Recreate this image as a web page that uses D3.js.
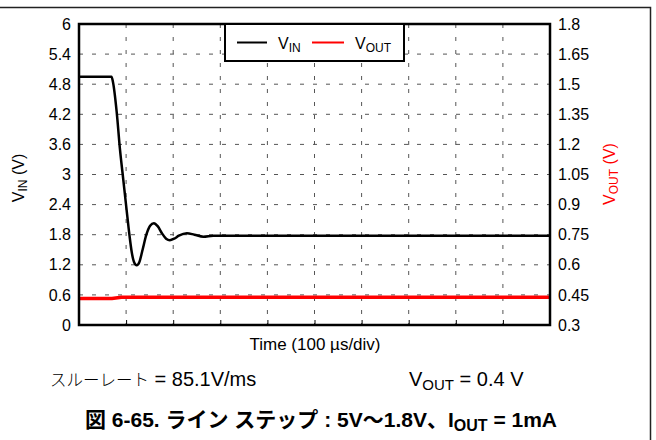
<!DOCTYPE html>
<html>
<head>
<meta charset="utf-8">
<script src="https://cdn.jsdelivr.net/npm/d3@7"></script>
<style>
  body { margin: 0; background: #fff; }
  text { font-family: "Liberation Sans", Arial, "Noto Sans CJK JP", sans-serif; }
</style>
</head>
<body>
<div id="chart"></div>
<script>
// time in divisions (100 us/div)
const vinTime = [0, 0.69, 0.72, 0.80, 0.87, 0.94, 1.01, 1.07, 1.12, 1.17, 1.225, 1.28, 1.35, 1.43, 1.51, 1.59, 1.67, 1.76, 1.85, 1.93, 2.02, 2.12, 2.29, 2.45, 2.64, 2.85, 10];
const vinValues = [4.95, 4.95, 4.85, 4.25, 3.5, 2.9, 2.3, 1.8, 1.45, 1.25, 1.19, 1.25, 1.5, 1.8, 1.98, 2.03, 1.97, 1.83, 1.72, 1.69, 1.72, 1.78, 1.83, 1.80, 1.76, 1.78, 1.78];
const voutTime = [0, 0.7, 0.9, 10];
const voutValues = [0.432, 0.432, 0.438, 0.438];

const leftTicks = [0, 0.6, 1.2, 1.8, 2.4, 3, 3.6, 4.2, 4.8, 5.4, 6];
const rightTicks = [0.3, 0.45, 0.6, 0.75, 0.9, 1.05, 1.2, 1.35, 1.5, 1.65, 1.8];
const timeTicks = [0, 1, 2, 3, 4, 5, 6, 7, 8, 9, 10];

const W = 656, H = 440;
const margin = { top: 24, right: 106, bottom: 115, left: 79 };
const width = W - margin.left - margin.right;
const height = H - margin.top - margin.bottom;

const svg = d3.select("#chart").append("svg")
  .attr("width", W)
  .attr("height", H);

// outer frame (top + right only)
svg.append("path")
  .attr("d", "M0,7.5H650.5V" + H)
  .attr("fill", "none")
  .attr("stroke", "#222")
  .attr("stroke-width", 1.5);

const g = svg.append("g")
  .attr("transform", "translate(" + margin.left + "," + margin.top + ")");

const x = d3.scaleLinear().domain([0, 10]).range([0, width]);
const yL = d3.scaleLinear().domain([0, 6]).range([height, 0]);
const yR = d3.scaleLinear().domain([0.3, 1.8]).range([height, 0]);

// grid
g.selectAll(".hgrid").data(leftTicks.slice(1, -1)).enter().append("line")
  .attr("x1", 0).attr("x2", width)
  .attr("y1", d => yL(d)).attr("y2", d => yL(d))
  .attr("stroke", "#555").attr("stroke-width", 1)
  .attr("stroke-dasharray", "4,9");
g.selectAll(".vgrid").data(timeTicks.slice(1, -1)).enter().append("line")
  .attr("y1", 0).attr("y2", height)
  .attr("x1", d => x(d)).attr("x2", d => x(d))
  .attr("stroke", "#555").attr("stroke-width", 1)
  .attr("stroke-dasharray", "4,9");

// small inner ticks on bottom
g.append("g")
  .attr("transform", "translate(0," + height + ")")
  .call(d3.axisBottom(x).tickValues(timeTicks).tickSize(-5).tickFormat(""))
  .call(a => a.select(".domain").remove());

// left axis labels
g.append("g")
  .call(d3.axisLeft(yL).tickValues(leftTicks).tickSize(0).tickPadding(8).tickFormat(d3.format("~g")))
  .call(a => a.select(".domain").remove())
  .selectAll("text")
  .attr("font-size", 16).attr("fill", "#000");

// right axis labels
g.append("g")
  .attr("transform", "translate(" + width + ",0)")
  .call(d3.axisRight(yR).tickValues(rightTicks).tickSize(0).tickPadding(8).tickFormat(d3.format("~g")))
  .call(a => a.select(".domain").remove())
  .selectAll("text")
  .attr("font-size", 16).attr("fill", "#000");

// traces
const lineL = d3.line().x((d, i) => x(vinTime[i])).y(d => yL(d)).curve(d3.curveMonotoneX);
const lineR = d3.line().x((d, i) => x(voutTime[i])).y(d => yR(d));

g.append("path")
  .datum(voutValues)
  .attr("fill", "none")
  .attr("stroke", "#ff0000")
  .attr("stroke-width", 3.5)
  .attr("d", lineR);

g.append("path")
  .datum(vinValues)
  .attr("fill", "none")
  .attr("stroke", "#000")
  .attr("stroke-width", 2.5)
  .attr("d", lineL);

// plot border
g.append("rect")
  .attr("width", width).attr("height", height)
  .attr("fill", "none").attr("stroke", "#000").attr("stroke-width", 2.5);

// legend
const lg = g.append("g").attr("transform", "translate(" + (225 - margin.left) + ",0)");
lg.append("rect").attr("width", 179).attr("height", 37)
  .attr("fill", "#fff").attr("stroke", "#000").attr("stroke-width", 2);
lg.append("line").attr("x1", 12).attr("x2", 42).attr("y1", 18.5).attr("y2", 18.5)
  .attr("stroke", "#000").attr("stroke-width", 2);
const t1 = lg.append("text").attr("x", 53).attr("y", 25).attr("font-size", 16);
t1.append("tspan").text("V");
t1.append("tspan").attr("font-size", 12).attr("dy", 3).text("IN");
lg.append("line").attr("x1", 87).attr("x2", 119).attr("y1", 18.5).attr("y2", 18.5)
  .attr("stroke", "#ff0000").attr("stroke-width", 2);
const t2 = lg.append("text").attr("x", 130).attr("y", 25).attr("font-size", 16);
t2.append("tspan").text("V");
t2.append("tspan").attr("font-size", 12).attr("dy", 3).text("OUT");

// axis titles
const yt = svg.append("text")
  .attr("transform", "translate(24,178) rotate(-90)")
  .attr("text-anchor", "middle").attr("font-size", 16);
yt.append("tspan").text("V");
yt.append("tspan").attr("font-size", 12).attr("dy", 3).text("IN");
yt.append("tspan").attr("dy", -3).text(" (V)");

const yt2 = svg.append("text")
  .attr("transform", "translate(615,174) rotate(-90)")
  .attr("text-anchor", "middle").attr("font-size", 16).attr("fill", "#ff0000");
yt2.append("tspan").text("V");
yt2.append("tspan").attr("font-size", 12).attr("dy", 3).text("OUT");
yt2.append("tspan").attr("dy", -3).text(" (V)");

svg.append("text")
  .attr("x", 315).attr("y", 350)
  .attr("text-anchor", "middle").attr("font-size", 17)
  .text("Time (100 µs/div)");

// notes under the chart
const s1 = svg.append("text").attr("x", 50).attr("y", 386).attr("font-size", 20);
s1.append("tspan").attr("font-family", "'Noto Sans CJK JP'").attr("font-weight", 300).attr("font-size", 16.5).text("スルーレート");
s1.append("tspan").text(" = 85.1V/ms");

const s2 = svg.append("text").attr("x", 409).attr("y", 386).attr("font-size", 20);
s2.append("tspan").text("V");
s2.append("tspan").attr("font-size", 15).attr("dy", 4).text("OUT");
s2.append("tspan").attr("dy", -4).text(" = 0.4 V");

const title = svg.append("text").attr("x", 321).attr("y", 427)
  .attr("text-anchor", "middle").attr("font-size", 21).attr("font-weight", "bold");
title.append("tspan").text("図 6-65. ライン ステップ : 5V〜1.8V、I");
title.append("tspan").attr("font-size", 16).attr("dy", 4).text("OUT");
title.append("tspan").attr("dy", -4).text(" = 1mA");
</script>
</body>
</html>
